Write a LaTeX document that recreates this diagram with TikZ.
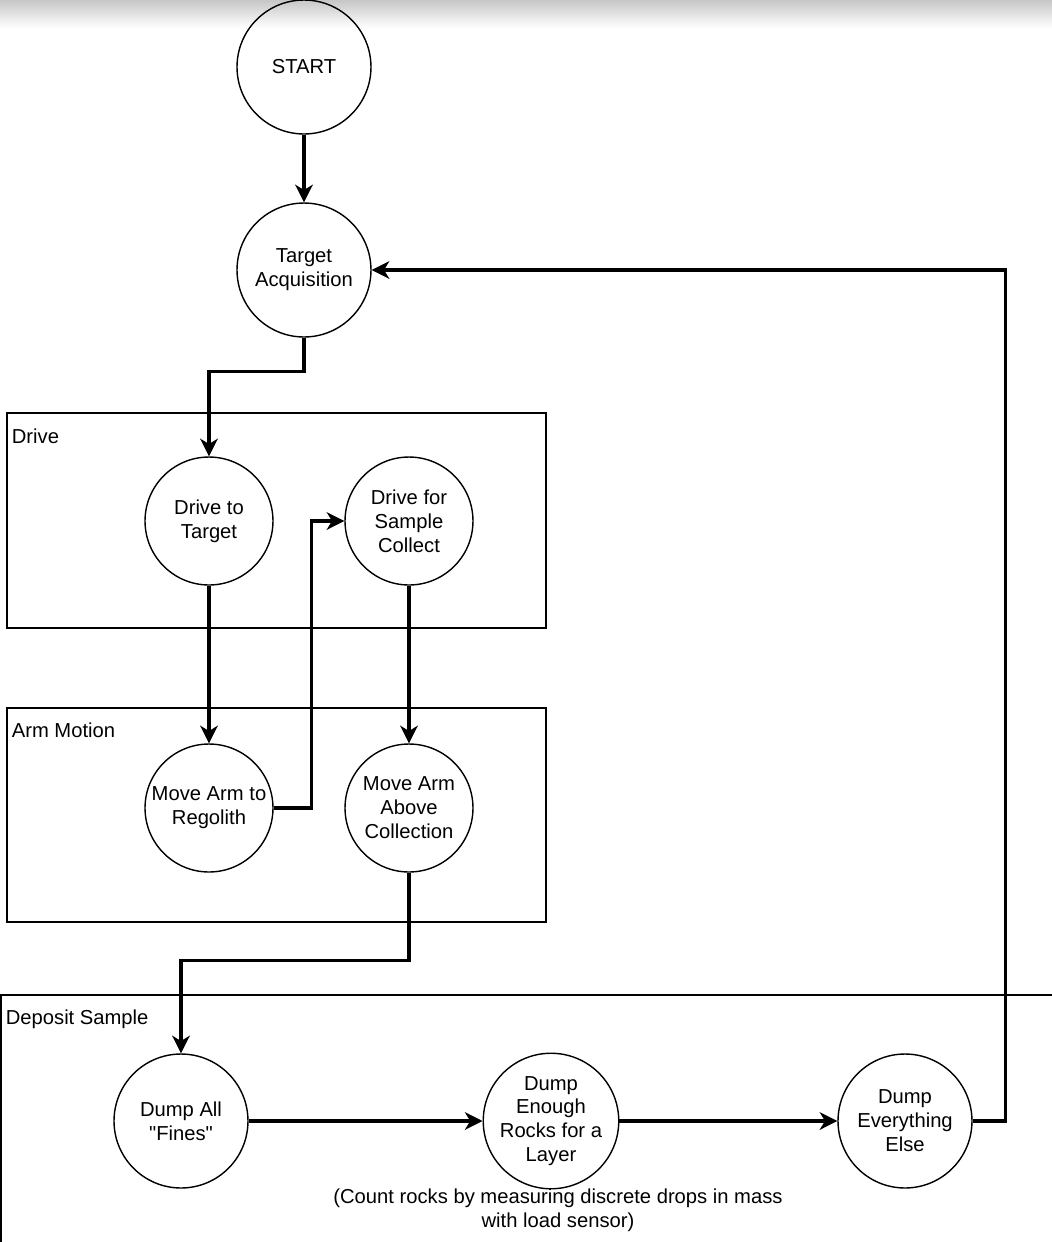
\documentclass[tikz,border=0pt]{standalone}
\usepackage{fontspec}
\setmainfont{Liberation Sans}[Ligatures=TeXOff]
\usetikzlibrary{arrows.meta}

\tikzset{
  state/.style={draw, circle, line width=0.8pt, minimum size=2.56cm, inner sep=0pt, align=center},
  bigstate/.style={state, minimum size=2.68cm},
  group/.style={draw, line width=1pt},
  grouplabel/.style={anchor=north west, inner sep=2pt},
  conn/.style={line width=2pt, -{Stealth[length=10pt, width=10pt, inset=3pt]}},
}

\begin{document}
\begin{tikzpicture}[x=0.02cm, y=-0.02cm, font=\fontsize{11.5pt}{13.6pt}\selectfont]
  \useasboundingbox (0,0) rectangle (1052,1242);
  \shade[top color=black!22, bottom color=white] (0,0) rectangle (1052,28);

  % groups
  \draw[group] (7,413) rectangle (546,628);
  \node[grouplabel] at (8,425) {Drive};
  \draw[group] (7,708) rectangle (546,922);
  \node[grouplabel] at (8,719) {Arm Motion};
  \draw[group] (1,995) rectangle (1070,1260);
  \node[grouplabel] at (2,1006) {Deposit Sample};

  % states
  \node[bigstate] (start) at (304,67) {START};
  \node[bigstate] (tgt) at (304,270) {Target\\Acquisition};
  \node[state] (d2t) at (209,521) {Drive to\\Target};
  \node[state] (dsc) at (409,521) {Drive for\\Sample\\Collect};
  \node[state] (mar) at (209,808) {Move Arm to\\Regolith};
  \node[state] (maa) at (409,808) {Move Arm\\Above\\Collection};
  \node[bigstate] (dfn) at (181,1121) {Dump All\\"Fines"};
  \node[bigstate] (der) at (551,1121) {Dump\\Enough\\Rocks for a\\Layer};
  \node[bigstate] (dee) at (905,1121) {Dump\\Everything\\Else};
  \node[align=center] (note) at (558,1210) {(Count rocks by measuring discrete drops in mass\\with load sensor)};

  % transitions
  \draw[conn] (start) -- (tgt);
  \draw[conn] (tgt.south) -- ++(0,34) -| (d2t.north);
  \draw[conn] (d2t) -- (mar);
  \draw[conn] (mar.east) -- ++(38,0) |- (dsc.west);
  \draw[conn] (dsc) -- (maa);
  \draw[conn] (maa.south) -- ++(0,88) -| (dfn.north);
  \draw[conn] (dfn) -- (der);
  \draw[conn] (der) -- (dee);
  \draw[conn] (dee.east) -- ++(33,0) |- (tgt.east);
\end{tikzpicture}
\end{document}
